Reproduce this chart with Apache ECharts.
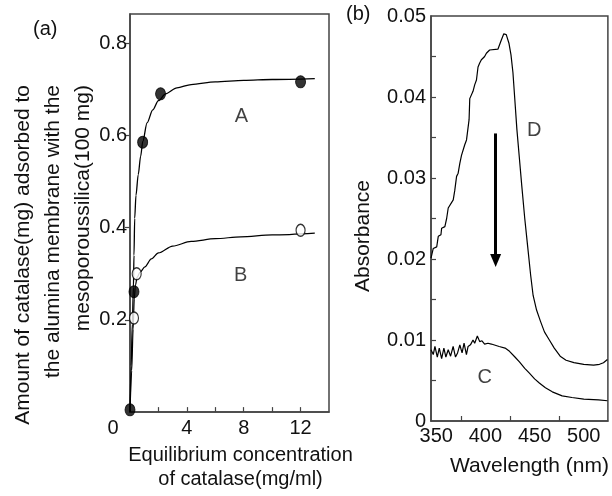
<!DOCTYPE html>
<html>
<head>
<meta charset="utf-8">
<script src="https://cdn.jsdelivr.net/npm/echarts@6/dist/echarts.min.js"></script>
<style>html,body{margin:0;padding:0;background:#fff}#chart{width:612px;height:496px}</style>
</head>
<body>
<div id="chart"></div>
<script>
// ---------- Panel (a): adsorption isotherms ----------
const pointsA = [[0.0, 0.005], [0.28, 0.261], [0.89, 0.585], [2.15, 0.69], [12.0, 0.716]];
const pointsB = [[0.28, 0.204], [0.47, 0.30], [12.0, 0.394]];
const curveA = [[0, 0], [0.08, 0.10], [0.16, 0.19], [0.24, 0.27], [0.28, 0.34], [0.33, 0.42], [0.42, 0.47],
  [0.58, 0.515], [0.75, 0.555], [0.9, 0.587], [1.2, 0.627], [1.6, 0.655], [2.0, 0.675], [2.5, 0.690],
  [3.3, 0.703], [4.3, 0.710], [6.0, 0.716], [8.0, 0.719], [10.0, 0.721], [13.0, 0.723]];
const curveB = [[0, 0], [0.12, 0.09], [0.22, 0.18], [0.30, 0.245], [0.38, 0.275], [0.5, 0.292], [0.7, 0.303],
  [1.05, 0.315], [1.5, 0.332], [2.0, 0.345], [3.0, 0.360], [4.3, 0.370], [6.0, 0.376], [7.8, 0.380],
  [10.0, 0.384], [13.0, 0.388]];
const xTicksA = [2, 4, 6, 8, 10, 12];
const xLabelsA = [0, 4, 8, 12];
const yLabelsA = [0.2, 0.4, 0.6, 0.8];
const curveNamesA = [['A', 7.84, 0.64], ['B', 7.78, 0.296]];

// ---------- Panel (b): absorbance spectra ----------
const spectrumD = [[344.7, 0.0201], [347.0, 0.0213], [350.5, 0.0215], [352.1, 0.0228], [354.8, 0.0230],
  [355.5, 0.0238], [358.8, 0.0240], [360.6, 0.0250], [362.2, 0.0263], [363.9, 0.0265], [367.3, 0.0273],
  [368.9, 0.0285], [370.7, 0.0302], [372.3, 0.0306], [374.0, 0.0318], [375.7, 0.0328], [379.0, 0.0341],
  [380.8, 0.0347], [382.4, 0.0349], [383.4, 0.0372], [384.1, 0.0398], [385.8, 0.0400], [387.4, 0.0407],
  [389.1, 0.0415], [390.9, 0.0421], [392.5, 0.0437], [394.2, 0.0442], [395.9, 0.0446], [397.5, 0.0448],
  [399.2, 0.0450], [401.0, 0.0454], [402.6, 0.0456], [404.3, 0.0458], [406.0, 0.0459], [412.7, 0.0459],
  [414.4, 0.0460], [416.1, 0.0470], [418.7, 0.0478], [421.2, 0.0477], [424.0, 0.0466], [426.0, 0.0452],
  [428.0, 0.0430], [430.0, 0.0395], [432.0, 0.0360], [434.5, 0.0325], [437.0, 0.0290], [440.0, 0.0250],
  [443.0, 0.0215], [446.0, 0.0180], [448.5, 0.0155], [452.0, 0.0137], [456.0, 0.0123], [460.0, 0.0110],
  [465.0, 0.0100], [470.0, 0.0090], [476.0, 0.0080], [482.0, 0.0075], [490.0, 0.0072], [500.0, 0.0070],
  [510.0, 0.0069], [516.0, 0.0070], [520.0, 0.0072], [524.0, 0.0076]];
const spectrumC = [[344.7, 0.0088], [347.0, 0.0082], [348.7, 0.0092], [351.1, 0.0079], [353.1, 0.0090],
  [355.5, 0.0077], [357.8, 0.0090], [359.8, 0.0079], [362.2, 0.0088], [364.6, 0.0080], [367.2, 0.0092],
  [369.6, 0.0079], [371.7, 0.0084], [374.0, 0.0094], [376.3, 0.0084], [378.3, 0.0096], [380.7, 0.0082],
  [382.4, 0.0092], [384.8, 0.0094], [387.4, 0.0100], [389.1, 0.0096], [391.8, 0.0105], [394.2, 0.0098],
  [396.5, 0.0099], [399.2, 0.0095], [402.6, 0.0096], [406.0, 0.0095], [414.0, 0.0092], [420.0, 0.0090],
  [424.5, 0.0086], [430.0, 0.0079], [434.6, 0.0073], [440.0, 0.0065], [444.7, 0.0059], [450.0, 0.0052],
  [454.8, 0.0047], [461.0, 0.0041], [468.0, 0.0036], [478.0, 0.0031], [488.0, 0.0029], [500.0, 0.0027],
  [515.0, 0.0026], [524.0, 0.0025]];
const xLabelsB = [350, 400, 450, 500];
const xTicksB = [375, 425, 475];
const yLabelsB = [0, 0.01, 0.02, 0.03, 0.04, 0.05];
const yTicksB = [0.005, 0.01, 0.015, 0.02, 0.025, 0.03, 0.035, 0.04, 0.045];
const curveNamesB = [['D', 449.7, 0.0359], ['C', 399.2, 0.0054]];
const arrowB = [[410.4, 0.0355], [410.4, 0.0198]];

// ---------- Texts ----------
const titleXA = 'Equilibrium concentration\nof catalase(mg/ml)';
const titleYA = 'Amount of catalase(mg) adsorbed to\nthe alumina membrane with the\nmesoporoussilica(100 mg)';
const titleXB = 'Wavelength (nm)';
const titleYB = 'Absorbance';
const panelTags = ['(a)', '(b)'];

const FONT = "'Liberation Sans', Arial, Helvetica, sans-serif";
const INK = '#111';
const FRAME = '#444';

const chart = echarts.init(document.getElementById('chart'), null, {renderer: 'canvas'});

const axisLineStyle = {show: true, lineStyle: {color: FRAME, width: 1.5}};
const tickStyle = {color: FRAME, width: 1.2};
const labelBase = {color: INK, fontSize: 20, fontFamily: FONT};

const annotation = (names, gi) => ({
  type: 'scatter', xAxisIndex: gi, yAxisIndex: gi, symbolSize: 1, silent: true,
  itemStyle: {color: 'rgba(0,0,0,0)'},
  label: {show: true, position: 'inside', formatter: p => p.data[2], color: INK, fontSize: 20, fontFamily: FONT},
  data: names.map(n => [n[1], n[2], n[0]]), z: 5
});

const option = {
  animation: false,
  backgroundColor: '#fff',
  textStyle: {fontFamily: FONT},
  grid: [
    {left: 130, top: 14, width: 199, height: 410, show: true, borderColor: FRAME, borderWidth: 1.5, backgroundColor: 'transparent'},
    {left: 431, top: 16, width: 178, height: 405, show: true, borderColor: FRAME, borderWidth: 1.5, backgroundColor: 'transparent'}
  ],
  xAxis: [
    {
      gridIndex: 0, type: 'value', min: 0, max: 14,
      splitLine: {show: false}, axisLine: axisLineStyle,
      axisTick: {show: true, inside: true, length: 5, lineStyle: tickStyle, customValues: xTicksA},
      axisLabel: Object.assign({}, labelBase, {
        margin: 6, customValues: xLabelsA,
        formatter: v => v === 0 ? '{z|0}' : String(v),
        rich: {z: {color: INK, fontSize: 20, fontFamily: FONT, padding: [0, 34, 0, 0]}}
      }),
      name: titleXA, nameLocation: 'middle', nameGap: 24,
      nameTextStyle: {color: INK, fontSize: 20, fontFamily: FONT, lineHeight: 24, padding: [0, 0, 0, 22], verticalAlign: 'top'}
    },
    {
      gridIndex: 1, type: 'value', min: 344.7, max: 524.5,
      splitLine: {show: false}, axisLine: axisLineStyle,
      axisTick: {show: true, inside: true, length: 5, lineStyle: tickStyle, customValues: xTicksB},
      axisLabel: Object.assign({}, labelBase, {margin: 5, customValues: xLabelsB, formatter: v => String(v)}),
      name: titleXB, nameLocation: 'middle', nameGap: 35,
      nameTextStyle: {color: INK, fontSize: 21, fontFamily: FONT, padding: [0, 0, 0, 20], verticalAlign: 'top'}
    }
  ],
  yAxis: [
    {
      gridIndex: 0, type: 'value', min: 0, max: 0.863,
      splitLine: {show: false}, axisLine: axisLineStyle,
      axisTick: {show: true, inside: false, length: 5, lineStyle: tickStyle, customValues: yLabelsA},
      axisLabel: Object.assign({}, labelBase, {margin: 3, customValues: yLabelsA, formatter: v => v.toFixed(1)})
    },
    {
      gridIndex: 1, type: 'value', min: 0, max: 0.05,
      splitLine: {show: false}, axisLine: axisLineStyle,
      axisTick: {show: true, inside: true, length: 5, lineStyle: tickStyle, customValues: yTicksB},
      axisLabel: Object.assign({}, labelBase, {margin: 5, customValues: yLabelsB, formatter: v => v === 0 ? '0' : v.toFixed(2)})
    }
  ],
  graphic: [
    {type: 'text', left: 33, top: 19, style: {text: panelTags[0], font: '20px ' + FONT, fill: INK}},
    {type: 'text', left: 346, top: 4, style: {text: panelTags[1], font: '20px ' + FONT, fill: INK}},
    {type: 'text', x: 53, y: 85, rotation: Math.PI / 2,
      style: {text: titleYA, font: '21px ' + FONT, fill: INK, align: 'right', verticalAlign: 'middle', lineHeight: 30}},
    {type: 'text', x: 363, y: 236, rotation: Math.PI / 2,
      style: {text: titleYB, font: '21px ' + FONT, fill: INK, align: 'center', verticalAlign: 'middle'}}
  ],
  series: [
    {type: 'line', xAxisIndex: 0, yAxisIndex: 0, data: curveA, showSymbol: false, smooth: 0.3, smoothMonotone: 'x',
      lineStyle: {color: '#000', width: 1.3}, silent: true, z: 2},
    {type: 'line', xAxisIndex: 0, yAxisIndex: 0, data: curveB, showSymbol: false, smooth: 0.3, smoothMonotone: 'x',
      lineStyle: {color: '#000', width: 1.2}, silent: true, z: 2},
    {type: 'scatter', xAxisIndex: 0, yAxisIndex: 0, data: pointsA, symbol: 'circle', symbolSize: [10, 12],
      itemStyle: {color: '#000', borderColor: '#000', borderWidth: 1}, silent: true, z: 4},
    {type: 'scatter', xAxisIndex: 0, yAxisIndex: 0, data: pointsB, symbol: 'circle', symbolSize: [9, 12],
      itemStyle: {color: '#fff', borderColor: '#000', borderWidth: 1.3}, silent: true, z: 4},
    annotation(curveNamesA, 0),
    {type: 'line', xAxisIndex: 1, yAxisIndex: 1, data: spectrumD, showSymbol: false,
      lineStyle: {color: '#000', width: 1.2}, silent: true, z: 2,
      markLine: {silent: true, symbol: ['none', 'triangle'], symbolSize: [11, 13], label: {show: false},
        lineStyle: {color: '#000', width: 3, type: 'solid'}, emphasis: {disabled: true},
        data: [[{coord: arrowB[0]}, {coord: arrowB[1]}]]}},
    {type: 'line', xAxisIndex: 1, yAxisIndex: 1, data: spectrumC, showSymbol: false,
      lineStyle: {color: '#000', width: 1.2}, silent: true, z: 2},
    annotation(curveNamesB, 1)
  ]
};
chart.setOption(option);
</script>
</body>
</html>
